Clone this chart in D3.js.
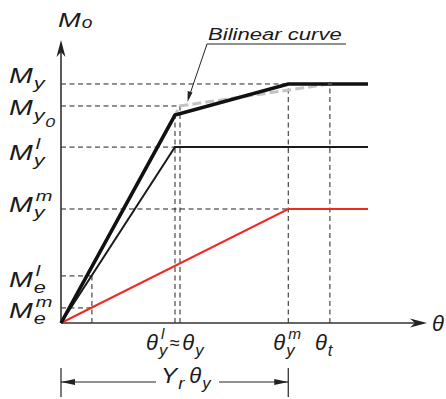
<!DOCTYPE html>
<html>
<head>
<meta charset="utf-8">
<script src="https://cdn.jsdelivr.net/npm/d3@7/dist/d3.min.js"></script>
<style>
  html, body { margin: 0; padding: 0; background: #fff; }
  svg { display: block; }
  text { font-family: "Liberation Sans", Arial, Helvetica, sans-serif; font-style: italic; fill: #1a1a1a; }
</style>
</head>
<body>
<svg id="chart" width="446" height="399"></svg>
<script>
// Rotation in units of θy, moment in units of My
const rotationMarks = { thetaYl: 0.958, thetaY: 1.0, thetaYm: 1.91, thetaT: 2.26, thetaE: 0.26 };
const momentMarks = { My: 1.0, My0: 0.908, Myl: 0.736, Mym: 0.477, Mel: 0.197, Mem: 0.063 };

// Moment–rotation curves
const totalCurve = [[0, 0], [0.958, 0.870], [1.91, 1.0], [2.58, 1.0]];
const bilinearCurve = [[0, 0], [1.0, 0.908], [2.26, 1.0]];
const layerLCurve = [[0, 0], [0.958, 0.736], [2.58, 0.736]];
const layerMCurve = [[0, 0], [1.91, 0.477], [2.58, 0.477]];

// Left-hand moment labels: main letter, subscript, superscript, sub-subscript
const momentLabels = [
  { key: "My",  main: "M", sub: "y", sup: "",  subsub: "",  dy: -1 },
  { key: "My0", main: "M", sub: "y", sup: "",  subsub: "0", dy: 9 },
  { key: "Myl", main: "M", sub: "y", sup: "l", subsub: "",  dy: 13 },
  { key: "Mym", main: "M", sub: "y", sup: "m", subsub: "",  dy: 3 },
  { key: "Mel", main: "M", sub: "e", sup: "l", subsub: "",  dy: 11 },
  { key: "Mem", main: "M", sub: "e", sup: "m", subsub: "",  dy: 10 }
];

const svg = d3.select("#chart");
const x = d3.scaleLinear().domain([0, 3.076]).range([61, 427]);
const y = d3.scaleLinear().domain([0, 1.184]).range([323, 40]);
const line = d3.line().x(d => x(d[0])).y(d => y(d[1]));

const axisColor = "#333";
const dash = "5,3.5";

// Dashed reference lines
const guides = svg.append("g").attr("stroke", "#222").attr("stroke-width", 1).attr("stroke-dasharray", dash).attr("fill", "none");
const hGuide = (v, xEnd) => guides.append("line").attr("x1", x(0)).attr("x2", x(xEnd)).attr("y1", y(v)).attr("y2", y(v));
const vGuide = (r, vTop) => guides.append("line").attr("x1", x(r)).attr("x2", x(r)).attr("y1", y(0)).attr("y2", y(vTop));
hGuide(momentMarks.My, rotationMarks.thetaYm);
hGuide(momentMarks.My0, rotationMarks.thetaY);
hGuide(momentMarks.Myl, rotationMarks.thetaYl);
hGuide(momentMarks.Mym, rotationMarks.thetaYm);
hGuide(momentMarks.Mel, rotationMarks.thetaE);
hGuide(momentMarks.Mem, rotationMarks.thetaE);
vGuide(rotationMarks.thetaYl, 0.870);
vGuide(rotationMarks.thetaY, momentMarks.My0);
vGuide(rotationMarks.thetaYm, momentMarks.My);
vGuide(rotationMarks.thetaT, momentMarks.My);
vGuide(rotationMarks.thetaE, momentMarks.Mel);

// Axes with arrowheads
const axes = svg.append("g");
axes.append("line").attr("x1", x(0)).attr("x2", x(3.02)).attr("y1", y(0)).attr("y2", y(0)).attr("stroke", axisColor).attr("stroke-width", 1.6);
axes.append("line").attr("x1", x(0)).attr("x2", x(0)).attr("y1", y(0)).attr("y2", y(1.15)).attr("stroke", axisColor).attr("stroke-width", 1.6);
axes.append("path").attr("d", `M${x(3.076)},${y(0)} L${x(3.076) - 17},${y(0) - 4.5} L${x(3.076) - 12},${y(0)} L${x(3.076) - 17},${y(0) + 4.5} Z`).attr("fill", "#222");
axes.append("path").attr("d", `M${x(0)},${y(1.184)} L${x(0) - 4.5},${y(1.184) + 17} L${x(0)},${y(1.184) + 12} L${x(0) + 4.5},${y(1.184) + 17} Z`).attr("fill", "#222");

// Curves
svg.append("path").datum(bilinearCurve).attr("d", line).attr("fill", "none")
  .attr("stroke", "#c4c4c4").attr("stroke-width", 3).attr("stroke-dasharray", "9,4");
svg.append("path").datum(layerMCurve).attr("d", line).attr("fill", "none")
  .attr("stroke", "#ee2a24").attr("stroke-width", 2);
svg.append("path").datum(layerLCurve).attr("d", line).attr("fill", "none")
  .attr("stroke", "#1a1a1a").attr("stroke-width", 2);
svg.append("path").datum(totalCurve).attr("d", line).attr("fill", "none")
  .attr("stroke", "#111").attr("stroke-width", 3.6).attr("stroke-linejoin", "miter");
svg.append("circle").attr("cx", x(rotationMarks.thetaT)).attr("cy", y(momentMarks.My)).attr("r", 2.2).attr("fill", "#444");

// Horizontally widened text piece; returns its right edge
function piece(px, py, str, size, sx) {
  const t = svg.append("text").attr("transform", `translate(${px},${py}) scale(${sx},1)`)
    .attr("font-size", size).text(str);
  return px + t.node().getComputedTextLength() * sx;
}

// Label with optional stacked sub/superscript
function label(px, py, main, sub, sup, subsub, size, sx) {
  size = size || 22;
  sx = sx || 1;
  const mEnd = piece(px, py, main, size, sx);
  let end = mEnd;
  if (sub) {
    end = Math.max(end, piece(mEnd + 1, py + 6, sub, size * 0.76, sx));
    if (subsub) end = piece(end + 0.5, py + 12, subsub, size * 0.62, sx);
  }
  if (sup) end = Math.max(end, piece(mEnd + 3, py - 11, sup, size * 0.7, sx));
  return end;
}

momentLabels.forEach(l => label(9, y(momentMarks[l.key]) + l.dy, l.main, l.sub, l.sup, l.subsub, 22, 1.3));

// Axis titles
const mo = piece(58, 27, "M", 21, 1.3);
piece(mo + 1, 28, "o", 16, 1.2);
piece(432, 331, "θ", 22, 1);

// Rotation labels under the axis
let e = label(146, 350, "θ", "y", "l", "", 22, 1);
svg.append("text").attr("x", e + 2).attr("y", 349).attr("font-size", 18).attr("font-style", "normal").text("≈");
label(e + 15, 350, "θ", "y", "", "", 22, 1);
label(x(rotationMarks.thetaYm) - 15, 350, "θ", "y", "m", "", 22, 1);
label(x(rotationMarks.thetaT) - 15, 350, "θ", "t", "", "", 22, 1);

// Span arrow Yr·θy
const spanY = 382;
const span = svg.append("g").attr("stroke", "#222").attr("stroke-width", 1.2);
span.append("line").attr("x1", x(0)).attr("x2", x(0)).attr("y1", 368).attr("y2", 397);
span.append("line").attr("x1", x(rotationMarks.thetaYm)).attr("x2", x(rotationMarks.thetaYm)).attr("y1", 368).attr("y2", 397);
span.append("line").attr("x1", x(0)).attr("x2", 156).attr("y1", spanY).attr("y2", spanY);
span.append("line").attr("x1", 219).attr("x2", x(rotationMarks.thetaYm)).attr("y1", spanY).attr("y2", spanY);
svg.append("path").attr("d", `M${x(0)},${spanY} l14,-3 l0,6 Z`).attr("fill", "#222");
svg.append("path").attr("d", `M${x(rotationMarks.thetaYm)},${spanY} l-14,-3 l0,6 Z`).attr("fill", "#222");
let e2 = label(161, 383, "Y", "r", "", "", 22, 1.1);
label(e2 + 5, 383, "θ", "y", "", "", 22, 1);

// Bilinear curve callout
piece(208, 40, "Bilinear curve", 17, 1.3);
svg.append("line").attr("x1", 207).attr("x2", 346).attr("y1", 44).attr("y2", 44).attr("stroke", "#222").attr("stroke-width", 1);
svg.append("line").attr("x1", 207).attr("x2", 190).attr("y1", 44).attr("y2", 94).attr("stroke", "#222").attr("stroke-width", 1);
svg.append("path").attr("d", "M187.5,102 L187.7,91 L192.5,92.6 Z").attr("fill", "#222");
</script>
</body>
</html>
